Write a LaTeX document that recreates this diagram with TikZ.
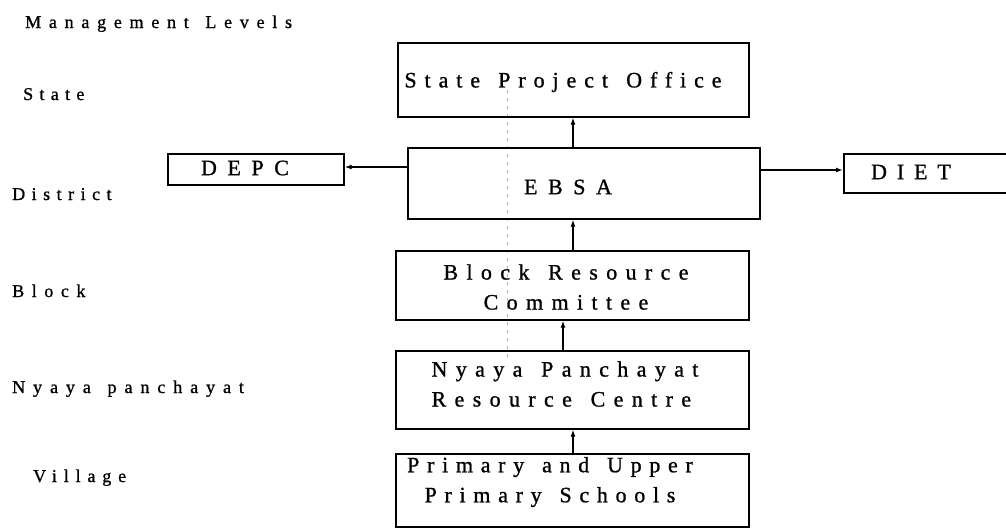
\documentclass[tikz,border=0pt]{standalone}
\usepackage{fontspec}
\setmainfont{Liberation Serif}[FakeBold=1,WordSpace=1.35]
\usetikzlibrary{arrows.meta}
\newcommand\lsp[2]{{\addfontfeature{LetterSpace=#1}#2}}
\begin{document}
\begin{tikzpicture}[x=1pt,y=-1pt,
  box/.style={draw, line width=1.6pt, inner sep=0pt, anchor=north west},
  boxtext/.style={inner sep=0pt, font=\fontsize{22}{30}\selectfont},
  lvl/.style={anchor=base west, inner sep=0pt, font=\fontsize{18}{20}\selectfont},
  arr/.style={line width=1.5pt, -{Latex[length=7pt,width=5pt]}}]
\useasboundingbox (0,0) rectangle (1006,528);
% faint scan line
\draw[black!30, line width=0.6pt, dash pattern=on 3pt off 5pt] (507,90) -- (507,360);
% level labels
\node[lvl] (lm) at (25,28) {\lsp{43}{Management Levels}};
\node[lvl] (ls) at (23,100) {\lsp{35}{State}};
\node[lvl] (ld) at (12,200) {\lsp{36}{District}};
\node[lvl] (lb) at (12,297) {\lsp{42}{Block}};
\node[lvl] (ln) at (12,393) {\lsp{44}{Nyaya panchayat}};
\node[lvl] (lv) at (33,482) {\lsp{38}{Village}};
% boxes
\node[box, minimum width=351pt, minimum height=74pt] (spo) at (397,42) {};
\node[box, minimum width=352pt, minimum height=71pt] (ebsa) at (407,147) {};
\node[box, minimum width=176pt, minimum height=31pt] (depc) at (167,153) {};
\node[box, minimum width=180pt, minimum height=39pt] (diet) at (843,153) {};
\node[box, minimum width=353pt, minimum height=69pt] (brc) at (395,250) {};
\node[box, minimum width=353pt, minimum height=78pt] (nprc) at (395,350) {};
\node[box, minimum width=353pt, minimum height=73pt] (pups) at (395,453) {};
% box texts
\node[boxtext] (tspo) at (563,82) {\lsp{36}{State Project Office}};
\node[boxtext] (tebsa) at (568,187) {\lsp{48}{EBSA}};
\node[boxtext] (tdepc) at (245,168) {\lsp{48}{DEPC}};
\node[boxtext] (tdiet) at (911,172) {\lsp{45}{DIET}};
\node[boxtext, align=center] (tbrc) at (566,287) {\lsp{38}{Block Resource}\\\lsp{38}{Committee}};
\node[boxtext, align=left] (tnprc) at (565,384) {\lsp{38}{Nyaya Panchayat}\\\lsp{38}{Resource Centre}};
\node[boxtext, align=center] (tpups) at (550,482) {\lsp{35}{Primary and Upper}\\\lsp{35}{Primary Schools}};
% connectors
\coordinate (xa) at (573,0);
\coordinate (xb) at (563,0);
\coordinate (yd) at (0,167);
\coordinate (yt) at (0,170);
\draw[arr] (ebsa.north -| xa) -- (spo.south -| xa);
\draw[arr] (brc.north -| xa) -- (ebsa.south -| xa);
\draw[arr] (nprc.north -| xb) -- (brc.south -| xb);
\draw[arr] (pups.north -| xa) -- (nprc.south -| xa);
\draw[arr] (ebsa.west |- yd) -- (depc.east |- yd);
\draw[arr] (ebsa.east |- yt) -- (diet.west |- yt);
\end{tikzpicture}
\end{document}
